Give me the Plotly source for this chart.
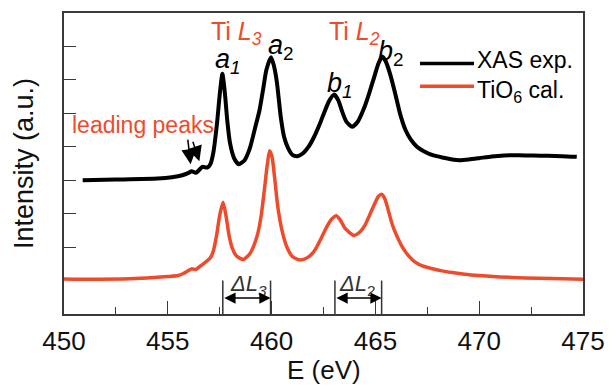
import plotly.graph_objects as go

# ---- measured spectra -------------------------------------------------------
# Experimental Ti L2,3-edge XAS (offset upward for clarity)
xas_energy = [450.9, 452.5, 454.5, 455.2, 455.7, 456.0, 456.15, 456.35, 456.5,
              456.66, 456.9, 457.05, 457.2, 457.37, 457.5, 457.63, 457.75, 457.87,
              458.0, 458.2, 458.42, 458.7, 458.95, 459.2, 459.42, 459.6, 459.75,
              459.97, 460.1, 460.25, 460.44, 460.6, 460.8, 461.0, 461.25, 461.5,
              461.8, 462.05, 462.3, 462.55, 462.78, 463.02, 463.22, 463.4, 463.6,
              463.88, 464.15, 464.45, 464.7, 464.95, 465.15, 465.33, 465.5, 465.72,
              465.95, 466.2, 466.45, 466.7, 467.0, 467.35, 467.8, 468.3, 468.7,
              469.05, 469.5, 470.0, 470.6, 471.2, 471.9, 472.6, 473.3, 474.0, 474.7]
xas_intensity = [4.00, 4.02, 4.05, 4.09, 4.15, 4.22, 4.27, 4.22, 4.30,
                 4.40, 4.38, 4.48, 4.85, 5.70, 6.55, 7.18, 6.60, 5.75,
                 5.10, 4.65, 4.48, 4.60, 4.95, 5.55, 6.10, 6.75, 7.30,
                 7.68, 7.45, 6.95, 5.90, 5.30, 4.95, 4.76, 4.72, 4.80,
                 5.02, 5.30, 5.65, 6.05, 6.38, 6.56, 6.38, 6.05, 5.75,
                 5.60, 5.75, 6.15, 6.60, 7.10, 7.50, 7.70, 7.55, 7.15,
                 6.60, 5.96, 5.50, 5.22, 5.00, 4.86, 4.74, 4.67, 4.62,
                 4.60, 4.62, 4.66, 4.71, 4.74, 4.75, 4.74, 4.73, 4.72, 4.70]

# Calculated TiO6 cluster spectrum
cal_energy = [450.0, 451.7, 454.0, 455.0, 455.5, 455.75, 456.0, 456.15, 456.35,
              456.6, 456.82, 457.05, 457.2, 457.35, 457.5, 457.66, 457.8, 457.95,
              458.1, 458.3, 458.63, 458.95, 459.15, 459.35, 459.5, 459.65, 459.78,
              459.9, 460.02, 460.15, 460.3, 460.5, 460.75, 461.0, 461.32, 461.65,
              461.95, 462.15, 462.4, 462.65, 462.9, 463.12, 463.32, 463.55, 463.96,
              464.25, 464.5, 464.75, 464.98, 465.15, 465.3, 465.45, 465.6, 465.8,
              466.0, 466.3, 466.6, 466.9, 467.3, 467.7, 468.2, 468.7, 469.3,
              470.0, 471.0, 472.2, 473.5, 475.0]
cal_intensity = [1.05, 1.04, 1.08, 1.12, 1.15, 1.21, 1.30, 1.35, 1.33,
                 1.45, 1.55, 1.68, 1.90, 2.35, 2.95, 3.34, 2.95, 2.35,
                 1.98, 1.74, 1.63, 1.80, 2.05, 2.45, 2.95, 3.70, 4.40,
                 4.88, 4.70, 4.05, 3.20, 2.50, 1.98, 1.72, 1.62, 1.66,
                 1.80, 1.98, 2.28, 2.60, 2.84, 2.94, 2.80, 2.55, 2.35,
                 2.45, 2.66, 3.00, 3.32, 3.52, 3.58, 3.45, 3.15, 2.70,
                 2.38, 2.00, 1.74, 1.56, 1.43, 1.36, 1.29, 1.24, 1.19,
                 1.15, 1.11, 1.08, 1.06, 1.04]

# Peak positions used for the L3 / L2 splitting markers
l3_peaks = [457.65, 459.95]   # a1, a2
l2_peaks = [463.05, 465.3]    # b1, b2

# Leading pre-edge features marked by arrows (energy, intensity at arrow tip)
lead_energy = [456.10, 456.52]
lead_tip = [4.48, 4.57]

# Axis ticks
x_ticks = [450, 455, 460, 465, 470, 475]
y_ticks = [2, 3, 4, 5, 6, 7, 8]

RED = "#EF4B2B"
BLACK = "#000000"
AXIS = "#3a3a3a"
FONT = "Liberation Sans, Arial, sans-serif"

fig = go.Figure()

fig.add_trace(go.Scatter(
    x=xas_energy, y=xas_intensity, mode="lines", name="XAS exp.",
    line=dict(color=BLACK, width=4, shape="spline", smoothing=0.6),
    showlegend=False,
))
fig.add_trace(go.Scatter(
    x=cal_energy, y=cal_intensity, mode="lines", name="TiO6 cal.",
    line=dict(color=RED, width=3.5, shape="spline", smoothing=0.6),
    showlegend=False,
))

annotations = []
shapes = []

# Legend drawn by hand (long sample lines); the two text boxes meet at the
# midpoint between the sample lines
legend_mid = 0.795
for yp, col, label, anchor in [(0.832, BLACK, "XAS exp.", "bottom"),
                               (0.757, RED, "TiO<sub>6</sub> cal.", "top")]:
    shapes.append(dict(type="line", xref="paper", yref="paper",
                       x0=0.686, x1=0.79, y0=yp, y1=yp,
                       line=dict(color=col, width=3.5)))
    annotations.append(dict(xref="paper", yref="paper", x=0.793,
                            y=legend_mid + (0.003 if anchor == "bottom" else -0.003),
                            xanchor="left", yanchor=anchor, text=label,
                            showarrow=False, borderpad=0,
                            font=dict(size=23, color=BLACK, family=FONT)))

# Edge and peak labels
labels = [
    dict(x=457.04, y=8.40, text="Ti <i>L</i><sub><i>3</i></sub>",
         font=dict(size=25, color=RED, family=FONT)),
    dict(x=462.71, y=8.40, text="Ti <i>L</i><sub><i>2</i></sub>",
         font=dict(size=25, color=RED, family=FONT)),
    dict(x=457.22, y=7.55, text="<i>a</i><sub><i>1</i></sub>",
         font=dict(size=27, color=BLACK, family=FONT)),
    dict(x=459.78, y=7.97, text="<i>a</i><sub>2</sub>",
         font=dict(size=27, color=BLACK, family=FONT)),
    dict(x=462.62, y=6.85, text="<i>b</i><sub><i>1</i></sub>",
         font=dict(size=27, color=BLACK, family=FONT)),
    dict(x=465.08, y=7.80, text="<i>b</i><sub>2</sub>",
         font=dict(size=27, color=BLACK, family=FONT)),
    dict(x=450.33, y=5.64, text="leading peaks",
         font=dict(size=23, color=RED, family=FONT)),
    dict(x=457.95, y=0.86, text="<i>ΔL</i><sub><i>3</i></sub>",
         font=dict(size=22, color="#333333", family=FONT)),
    dict(x=463.2, y=0.86, text="<i>ΔL</i><sub>2</sub>",
         font=dict(size=22, color="#333333", family=FONT)),
]
for a in labels:
    a.update(xref="x", yref="y", xanchor="left", yanchor="middle",
             showarrow=False, borderpad=0)
annotations += labels

# Arrows pointing at the leading peaks
for e, tip, dx, dy in zip(lead_energy, lead_tip, [-3, -7], [-26, -21]):
    annotations.append(dict(x=e, y=tip, xref="x", yref="y", ax=dx, ay=dy,
                            text="", showarrow=True, arrowhead=2,
                            arrowsize=2.0, arrowwidth=1.5, arrowcolor=BLACK))

# Splitting markers: vertical guides and double-headed arrows
for pair in (l3_peaks, l2_peaks):
    for e in pair:
        shapes.append(dict(type="line", xref="x", yref="y", x0=e, x1=e,
                           y0=0, y1=1.0, line=dict(color="#333333", width=1.5)))
    annotations.append(dict(x=pair[1], y=0.475, ax=pair[0], ay=0.475,
                            xref="x", yref="y", axref="x", ayref="y",
                            text="", showarrow=True, arrowhead=2,
                            arrowside="end+start", arrowsize=1.5,
                            arrowwidth=1.5, arrowcolor=BLACK))

# Axis titles
annotations.append(dict(xref="paper", yref="paper", x=0.5, y=-0.2376,
                        xanchor="center", yanchor="bottom", text="E (eV)",
                        showarrow=False, borderpad=0,
                        font=dict(size=26, color="#111111", family=FONT)))
annotations.append(dict(xref="paper", yref="paper", x=-0.078, y=0.5,
                        xanchor="center", yanchor="middle",
                        text="Intensity (a.u.)", textangle=-90,
                        showarrow=False,
                        font=dict(size=27, color="#111111", family=FONT)))

fig.update_layout(
    width=616, height=386,
    margin=dict(l=64, r=23, t=11, b=72),
    paper_bgcolor="white", plot_bgcolor="white",
    font=dict(family=FONT, color="#111111"),
    annotations=annotations, shapes=shapes,
)
fig.update_xaxes(
    range=[450, 475], tickvals=x_ticks, ticks="inside", ticklen=13,
    tickwidth=1.3, tickcolor=AXIS, showline=True, linecolor=AXIS,
    linewidth=1.6, mirror=True, showgrid=False, zeroline=False,
    ticklabelstandoff=3,
    tickfont=dict(size=26, color="#111111", family=FONT),
    minor=dict(dtick=2.5, tick0=450, ticks="inside", ticklen=7,
               tickwidth=1.3, tickcolor=AXIS, showgrid=False),
)
fig.update_yaxes(
    range=[0, 9], tickvals=y_ticks, ticks="inside", ticklen=12,
    tickwidth=1.3, tickcolor=AXIS, showticklabels=False, showline=True,
    linecolor=AXIS, linewidth=1.6, mirror=True, showgrid=False,
    zeroline=False,
)

fig.write_html("out.html")
